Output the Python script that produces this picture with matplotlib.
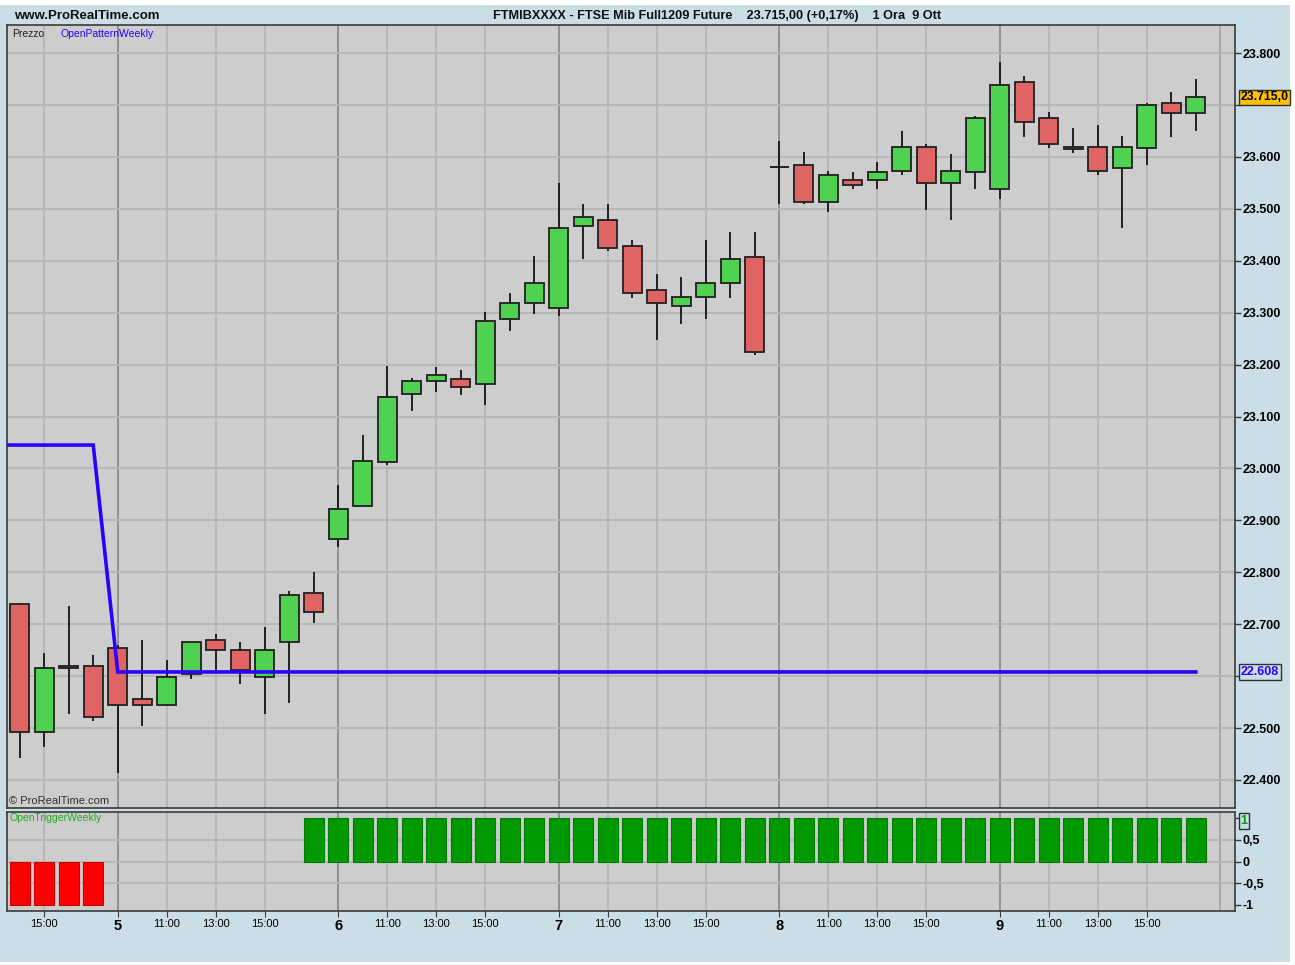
import matplotlib
matplotlib.use("Agg")
import matplotlib.pyplot as plt
from matplotlib.patches import Rectangle
import numpy as np

plt.rcParams['font.family'] = ['Liberation Sans Narrow', 'Liberation Sans', 'DejaVu Sans']

# ---------------- data ----------------
days = ["4", "5", "6", "7", "8", "9"]
bar_hours = [14, 15, 16, 17] + list(range(9, 18)) * 5
bar_days = ["4"] * 4 + ["5"] * 9 + ["6"] * 9 + ["7"] * 9 + ["8"] * 9 + ["9"] * 9

opens = [22739, 22493, 22619, 22619, 22654, 22555, 22545, 22605, 22669, 22650, 22598, 22665, 22760,
         22864, 22928, 23013, 23143, 23168, 23172, 23162, 23288, 23319,
         23309, 23467, 23478, 23429, 23344, 23313, 23330, 23358, 23408,
         23580, 23584, 23514, 23555, 23555, 23573, 23619, 23549, 23570,
         23539, 23745, 23675, 23619, 23619, 23579, 23618, 23704, 23685]
closes = [22493, 22615, 22615, 22521, 22545, 22545, 22599, 22665, 22650, 22612, 22650, 22756, 22724,
          22921, 23014, 23138, 23168, 23179, 23157, 23284, 23319, 23358,
          23464, 23485, 23424, 23338, 23319, 23330, 23358, 23404, 23225,
          23580, 23514, 23566, 23545, 23570, 23619, 23549, 23573, 23675,
          23738, 23668, 23625, 23615, 23573, 23619, 23700, 23685, 23715]
highs = [22740, 22645, 22735, 22640, 22660, 22670, 22631, 22665, 22681, 22666, 22694, 22764, 22800,
         22969, 23064, 23198, 23174, 23195, 23190, 23301, 23338, 23409,
         23550, 23510, 23510, 23440, 23374, 23369, 23440, 23455, 23455,
         23630, 23609, 23573, 23570, 23591, 23650, 23625, 23606, 23679,
         23782, 23756, 23686, 23655, 23661, 23640, 23704, 23725, 23750]
lows = [22443, 22464, 22528, 22514, 22414, 22503, 22545, 22594, 22609, 22584, 22528, 22549, 22703,
        22849, 22928, 23007, 23111, 23147, 23142, 23122, 23265, 23297,
        23294, 23403, 23418, 23329, 23248, 23278, 23288, 23329, 23218,
        23509, 23509, 23494, 23538, 23538, 23565, 23498, 23478, 23538,
        23519, 23639, 23618, 23608, 23565, 23463, 23584, 23639, 23649]

# OpenPatternWeekly, starting one bar before the first visible candle
open_pattern = [23045, 23045, 23045, 23045, 23045] + [22608] * 45
# OpenTriggerWeekly
open_trigger = [-1] * 4 + [0] * 8 + [1] * 37

price_ticks = [22400, 22500, 22600, 22700, 22800, 22900, 23000, 23100, 23200,
               23300, 23400, 23500, 23600, 23700, 23800]
last_price = 23715
pattern_last = 22608

# ---------------- style ----------------
W, H = 1295, 965
BG = "#cbdde6"
PANEL = "#cdcdcd"
RED = "#e06464"
GREEN = "#4fd24f"
BLUE = "#2a00ff"
GRID = "#b5b5b5"
DAYGRID = "#8c8c8c"

fig = plt.figure(figsize=(W / 100, H / 100), dpi=100)
fig.patch.set_facecolor("white")
fig.add_artist(Rectangle((0, 3 / H), 1290 / W, 957 / H, transform=fig.transFigure,
                         facecolor=BG, edgecolor="none", zorder=-10))

def fx(px):
    return px / W

def fy(py):
    return 1 - py / H

left, right = 7, 1235
ax = fig.add_axes([fx(left), fy(808), fx(right - left), fy(25) - fy(808)])
ax2 = fig.add_axes([fx(left), fy(911), fx(right - left), fy(812) - fy(911)], sharex=ax)

n = len(opens)
x = np.arange(n)
xlim = (-0.52, 49.6)

day_starts = [i for i in range(n) if bar_hours[i] == 9] + [n]
hour_ticks = [i for i in range(n) if bar_hours[i] in (11, 13, 15)]

for a in (ax, ax2):
    a.set_facecolor(PANEL)
    a.set_xlim(*xlim)
    for s in a.spines.values():
        s.set_color("#3a3a3a")
        s.set_linewidth(1.2)
    for h in hour_ticks:
        a.axvline(h, color=GRID, lw=1.3, zorder=0.5)
    for d in day_starts[:-1]:
        a.axvline(d, color=DAYGRID, lw=1.3, zorder=0.5)
    a.axvline(day_starts[-1], color="#a5a5a5", lw=1.3, zorder=0.5)
    a.yaxis.tick_right()
    a.tick_params(axis="y", direction="out", length=4, width=1, color="#3a3a3a",
                  pad=1.5, labelsize=9)

# ---- main panel ----
ax.set_ylim(22346, 23854)
ax.set_yticks(price_ticks)
hidden = (22600, 23700)  # covered by value boxes in the original
ax.set_yticklabels(["" if v in hidden else f"{v/1000:.3f}" for v in price_ticks],
                   fontweight="bold", fontsize=9)
for p in price_ticks:
    ax.axhline(p, color=GRID, lw=1.3, zorder=0.5)
ax.tick_params(axis="x", bottom=False, labelbottom=False)

bw = 0.78
for i in range(n):
    o, c, hi, lo = opens[i], closes[i], highs[i], lows[i]
    col = GREEN if c > o else RED
    ax.vlines(i, lo, hi, color="#151515", lw=1.3, zorder=2)
    if o == c:
        ax.hlines(o, i - bw / 2, i + bw / 2, color="#151515", lw=1.3, zorder=3)
    else:
        ax.bar(i, abs(c - o), bottom=min(o, c), width=bw, color=col,
               edgecolor="#202020", linewidth=1.3, zorder=3)

xp = np.arange(-1, n)
ax.plot(xp, open_pattern, color=BLUE, lw=2.6, zorder=4, solid_joinstyle="miter")

ax.text(5 / (right - left), 0.995, "Prezzo", transform=ax.transAxes, fontsize=7.5,
        color="#202020", va="top", ha="left")
ax.text(53 / (right - left), 0.995, "OpenPatternWeekly", transform=ax.transAxes, fontsize=7.5,
        color=BLUE, va="top", ha="left")
ax.text(2 / (right - left), 0.003, "© ProRealTime.com", transform=ax.transAxes, fontsize=8,
        color="#303030", va="bottom", ha="left")

ytr = ax.get_yaxis_transform()
ax.text(1.0045, last_price, f"{last_price/1000:.3f},0", transform=ytr,
        fontsize=8.8, fontweight="bold", color="black", va="center", ha="left", zorder=10,
        clip_on=False,
        bbox=dict(boxstyle="square,pad=0.12", facecolor="#ffc000", edgecolor="#303030", lw=1))
ax.text(1.0045, pattern_last, f"{pattern_last/1000:.3f}", transform=ytr,
        fontsize=9, fontweight="bold", color=BLUE, va="center", ha="left", zorder=10,
        clip_on=False,
        bbox=dict(boxstyle="square,pad=0.15", facecolor=BG, edgecolor="#303030", lw=1))

# ---- lower panel ----
ax2.set_ylim(-1.14, 1.14)
ax2.set_yticks([1, 0.5, 0, -0.5, -1])
ax2.set_yticklabels(["", "0,5", "0", "-0,5", "-1"], fontweight="bold", fontsize=9)
for v in (0.5, 0, -0.5):
    ax2.axhline(v, color=GRID, lw=1.3, zorder=0.5)
trig = np.array(open_trigger)
nz = trig != 0
ax2.bar(x[nz], trig[nz], width=0.82,
        color=["#ff0000" if v < 0 else "#009900" for v in trig[nz]],
        edgecolor=["#cc0000" if v < 0 else "#007a00" for v in trig[nz]],
        linewidth=0.8, zorder=3)
ax2.text(3 / (right - left), 0.985, "OpenTriggerWeekly", transform=ax2.transAxes, fontsize=7.5,
         color="#22aa22", va="top", ha="left")
ytr2 = ax2.get_yaxis_transform()
ax2.text(1.0045, 0.93, "1", transform=ytr2, fontsize=9, fontweight="bold", color="#009900",
         va="center", ha="left", clip_on=False, zorder=10,
         bbox=dict(boxstyle="square,pad=0.15", facecolor=BG, edgecolor="#303030", lw=1))

# x ticks
tick_pos = sorted(set([1] + day_starts[:-1] + hour_ticks))
tick_lab = []
for t in tick_pos:
    if bar_hours[t] == 9:
        tick_lab.append(bar_days[t])
    else:
        tick_lab.append(f"{bar_hours[t]}:00")
ax2.set_xticks(tick_pos)
ax2.set_xticklabels(tick_lab, fontsize=8)
for t, lab in zip(tick_pos, ax2.get_xticklabels()):
    if bar_hours[t] == 9:
        lab.set_fontweight("bold")
        lab.set_fontsize(10.5)
ax2.tick_params(axis="x", direction="out", length=4, color="#3a3a3a", pad=2)

# header
fig.text(fx(14), fy(16), "www.ProRealTime.com", fontsize=9.5, fontweight="bold",
         va="center", ha="left", color="#101010")
fig.text(fx(717), fy(16),
         "FTMIBXXXX - FTSE Mib Full1209 Future    23.715,00 (+0,17%)    1 Ora  9 Ott",
         fontsize=9.2, fontweight="bold", va="center", ha="center", color="#101010")

fig.savefig("out.png", dpi=100, facecolor=fig.get_facecolor())
